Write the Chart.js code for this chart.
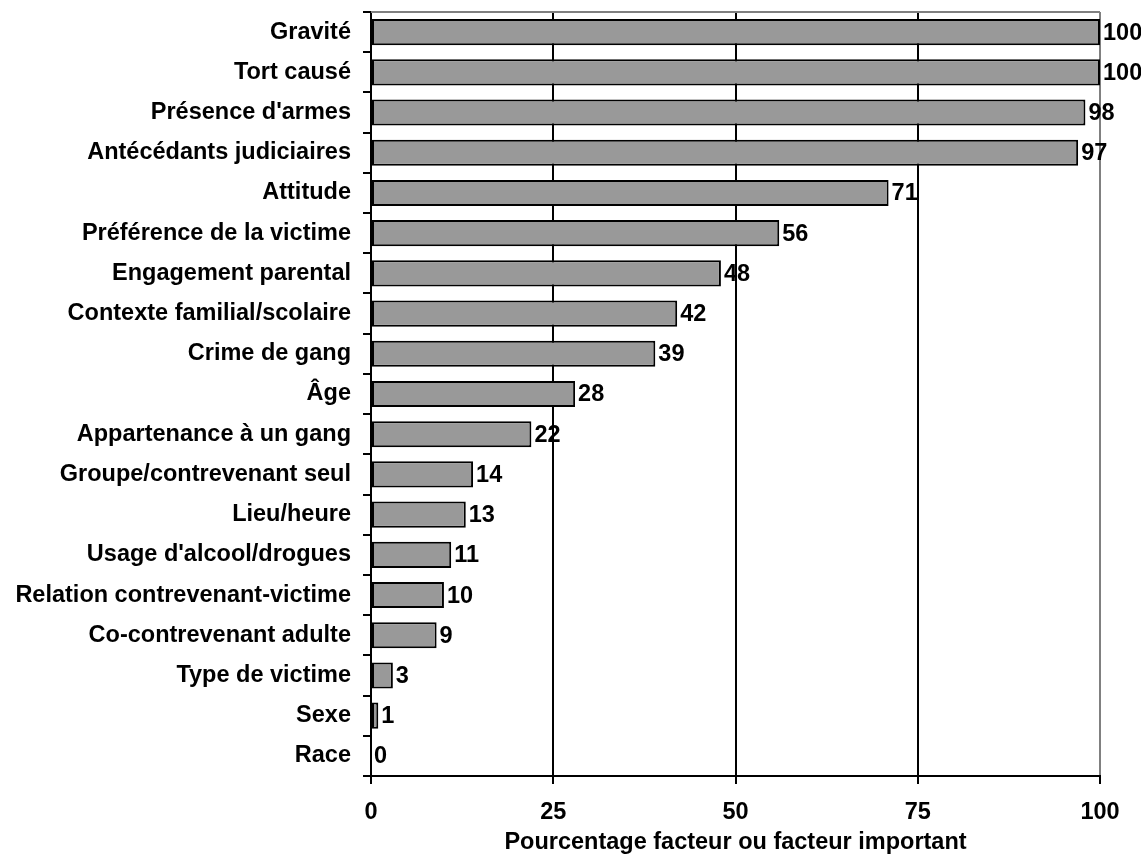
<!DOCTYPE html>
<html>
<head>
<meta charset="utf-8">
<script src="https://cdn.jsdelivr.net/npm/chart.js@4"></script>
<style>
  html, body { margin: 0; padding: 0; background: #fff; }
  #wrap { width: 1141px; height: 857px; }
</style>
</head>
<body>
<div id="wrap"><canvas id="c" width="1141" height="857"></canvas></div>
<script>
const categories = [
  "Gravité", "Tort causé", "Présence d'armes", "Antécédants judiciaires",
  "Attitude", "Préférence de la victime", "Engagement parental",
  "Contexte familial/scolaire", "Crime de gang", "Âge",
  "Appartenance à un gang", "Groupe/contrevenant seul", "Lieu/heure",
  "Usage d'alcool/drogues", "Relation contrevenant-victime",
  "Co-contrevenant adulte", "Type de victime", "Sexe", "Race"
];
const values = [100, 100, 98, 97, 71, 56, 48, 42, 39, 28, 22, 14, 13, 11, 10, 9, 3, 1, 0];
const xTicks = [0, 25, 50, 75, 100];
const xTitle = "Pourcentage facteur ou facteur important";

const FONT = "'Liberation Sans', Arial, sans-serif";
const FSIZE = 23.5;

// value labels at the end of each bar, plus the grey frame on top
const valueLabels = {
  id: 'valueLabels',
  afterDatasetsDraw(chart) {
    const ctx = chart.ctx;
    const meta = chart.getDatasetMeta(0);
    ctx.save();
    ctx.font = "bold " + FSIZE + "px " + FONT;
    ctx.fillStyle = '#000';
    ctx.textAlign = 'left';
    ctx.textBaseline = 'middle';
    meta.data.forEach((bar, i) => {
      ctx.fillText(String(values[i]), bar.x + 3, bar.y + 1);
    });
    ctx.restore();
  },
  beforeDatasetsDraw(chart) {
    const { ctx, chartArea } = chart;
    ctx.save();
    ctx.strokeStyle = '#808080';
    ctx.lineWidth = 2;
    ctx.beginPath();
    ctx.moveTo(chartArea.left, chartArea.top);
    ctx.lineTo(chartArea.right, chartArea.top);
    ctx.stroke();
    ctx.restore();
  }
};

new Chart(document.getElementById('c'), {
  type: 'bar',
  data: {
    labels: categories,
    datasets: [{
      data: values,
      backgroundColor: '#999999',
      borderColor: '#000000',
      borderWidth: 2,
      borderSkipped: false,
      barPercentage: 0.65,
      categoryPercentage: 1.0
    }]
  },
  options: {
    indexAxis: 'y',
    responsive: false,
    animation: false,
    layout: { padding: { top: 12, right: 41, left: 0, bottom: 0 } },
    plugins: { legend: { display: false }, tooltip: { enabled: false } },
    scales: {
      x: {
        min: 0, max: 100,
        afterBuildTicks(axis) { axis.ticks = xTicks.map(v => ({ value: v })); },
        afterFit(axis) { axis.height = 81; },
        grid: {
          color: ctx => (ctx.tick && ctx.tick.value === 100) ? '#808080' : '#000000',
          lineWidth: 2,
          tickColor: '#000000',
          tickLength: 8,
          drawOnChartArea: true
        },
        border: { color: '#000', width: 2 },
        ticks: { color: '#000', font: { family: FONT, size: FSIZE, weight: 'bold' }, padding: 14 },
        title: { display: true, text: xTitle, color: '#000', font: { family: FONT, size: FSIZE, weight: 'bold' }, padding: { top: 4, bottom: 0 } }
      },
      y: {
        afterFit(axis) { axis.width = 371; axis.paddingTop = 0; axis.paddingBottom = 0; },
        grid: { display: true, drawOnChartArea: false, offset: true, color: '#000', lineWidth: 2, tickLength: 8 },
        border: { color: '#000', width: 2 },
        ticks: { color: '#000', font: { family: FONT, size: FSIZE, weight: 'bold' }, padding: 12 }
      }
    }
  },
  plugins: [valueLabels]
});
</script>
</body>
</html>
